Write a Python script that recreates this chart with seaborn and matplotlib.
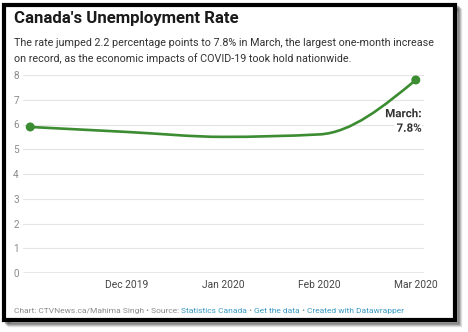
import numpy as np
import matplotlib
matplotlib.use("Agg")
import matplotlib.pyplot as plt
import seaborn as sns
import pandas as pd
from matplotlib.path import Path
from matplotlib.patches import PathPatch, Rectangle
import matplotlib.patheffects as pe

# ---- data ----
months = ["Nov 2019", "Dec 2019", "Jan 2020", "Feb 2020", "Mar 2020"]
rates = [5.9, 5.7, 5.5, 5.6, 7.8]
tick_labels = ["Dec 2019", "Jan 2020", "Feb 2020", "Mar 2020"]
y_ticks = [0, 1, 2, 3, 4, 5, 6, 7, 8]

title = "Canada's Unemployment Rate"
subtitle = ("The rate jumped 2.2 percentage points to 7.8% in March, the largest one-month increase\n"
            "on record, as the economic impacts of COVID-19 took hold nationwide.")

GREEN = "#3c8c32"
W, H = 468, 332

sns.set_theme(style="white")
plt.rcParams['font.family'] = ['Roboto', 'DejaVu Sans']

fig = plt.figure(figsize=(W / 100, H / 100), dpi=100)
fig.patch.set_facecolor("white")

def fx(px):
    return px / W

def fy(py):
    return 1 - py / H

# shadow + frame
for i, a in enumerate([0.10, 0.14, 0.18, 0.22]):
    off = 5 - i
    fig.patches.append(Rectangle((fx(4 + off), fy(320 + off)), fx(451), 315 / H,
                                 transform=fig.transFigure, facecolor="none",
                                 edgecolor="black", alpha=a, linewidth=2.5, zorder=0))
fig.patches.append(Rectangle((fx(4), fy(320)), fx(451), 315 / H, transform=fig.transFigure,
                             facecolor="white", edgecolor="black", linewidth=3.0, zorder=1))

ax = fig.add_axes([fx(23), fy(273), fx(424) - fx(23), (273 - 75) / H])
ax.set_facecolor("none")
ax.set_zorder(3)

df = pd.DataFrame({"month": months, "x": np.arange(len(months)), "rate": rates})

# monotone cubic (d3 curveMonotoneX) rendered as bezier segments
xs = df["x"].to_numpy(float)
ys = df["rate"].to_numpy(float)
h = np.diff(xs)
s = np.diff(ys) / h
t = np.zeros_like(ys)
for i in range(1, len(ys) - 1):
    s0, s1 = s[i - 1], s[i]
    p = (s0 * h[i] + s1 * h[i - 1]) / (h[i - 1] + h[i])
    t[i] = (np.sign(s0) + np.sign(s1)) * min(abs(s0), abs(s1), 0.5 * abs(p))
t[0] = (3 * s[0] - t[1]) / 2
t[-1] = (3 * s[-1] - t[-2]) / 2
verts = [(xs[0], ys[0])]
codes = [Path.MOVETO]
for i in range(len(xs) - 1):
    d = h[i] / 3
    verts += [(xs[i] + d, ys[i] + d * t[i]), (xs[i + 1] - d, ys[i + 1] - d * t[i + 1]),
              (xs[i + 1], ys[i + 1])]
    codes += [Path.CURVE4] * 3
ax.add_patch(PathPatch(Path(verts, codes), facecolor="none", edgecolor=GREEN,
                       linewidth=1.9, capstyle="round", zorder=4, clip_on=False))

ends = df.iloc[[0, -1]]
sns.scatterplot(data=ends, x="x", y="rate", ax=ax, color=GREEN, s=42,
                edgecolor="none", zorder=5, clip_on=False, legend=False)

ax.set_xlim(-0.075, 4.085)
ax.set_ylim(0, 8)
ax.set_yticks(y_ticks)
ax.set_yticklabels([str(v) for v in y_ticks])
ax.set_xticks([1, 2, 3, 4])
ax.set_xticklabels(tick_labels)
ax.tick_params(axis="y", length=0, pad=5, labelsize=7.2, labelcolor="#8a8a8a")
ax.tick_params(axis="x", length=0, pad=5, labelsize=7.4, labelcolor="#444444")
for lab in ax.get_yticklabels():
    lab.set_horizontalalignment("center")
for v in y_ticks[1:]:
    ax.axhline(v, color="#e4e4e4", linewidth=0.8, zorder=1)
ax.axhline(0, color="#444444", linewidth=0.9, zorder=2)
for sp in ax.spines.values():
    sp.set_visible(False)
ax.set_xlabel("")
ax.set_ylabel("")

ax.text(4.06, rates[-1] - 1.1, "March:\n" + f"{rates[-1]}%", ha="right", va="top",
        fontsize=8.3, fontweight="bold", color="#333333", linespacing=1.15, zorder=6,
        path_effects=[pe.withStroke(linewidth=4, foreground="white")])

fig.canvas.draw()
r = fig.canvas.get_renderer()

def fit(tt, target_px):
    bb = tt.get_window_extent(renderer=r)
    tt.set_fontsize(tt.get_fontsize() * target_px / bb.width)

# titles
t1 = fig.text(fx(14), fy(18), title, fontsize=12.6, fontweight="bold", color="#1a1a1a",
              va="center", ha="left", zorder=5)
fit(t1, 225)
t2 = fig.text(fx(14), fy(51), subtitle, fontsize=8.2, color="#333333", va="center",
              ha="left", linespacing=1.5, zorder=5)
fit(t2, 419)

# footer
parts = [("Chart: CTVNews.ca/Mahima Singh \u2022 Source: ", "#8a8a8a"),
         ("Statistics Canada", "#3b9ac4"), (" \u2022 ", "#8a8a8a"),
         ("Get the data", "#3b9ac4"), (" \u2022 ", "#8a8a8a"),
         ("Created with Datawrapper", "#3b9ac4")]
full = fig.text(0, 0, "".join(p[0] for p in parts), fontsize=6.4)
fsize = 6.4 * 390 / full.get_window_extent(renderer=r).width
full.remove()
xpos = 14
for txt, col in parts:
    tt = fig.text(fx(xpos), fy(311), txt, fontsize=fsize, color=col, va="center", ha="left", zorder=5)
    bb = tt.get_window_extent(renderer=r)
    xpos += bb.width

fig.savefig("out.png", dpi=100, facecolor="white")
